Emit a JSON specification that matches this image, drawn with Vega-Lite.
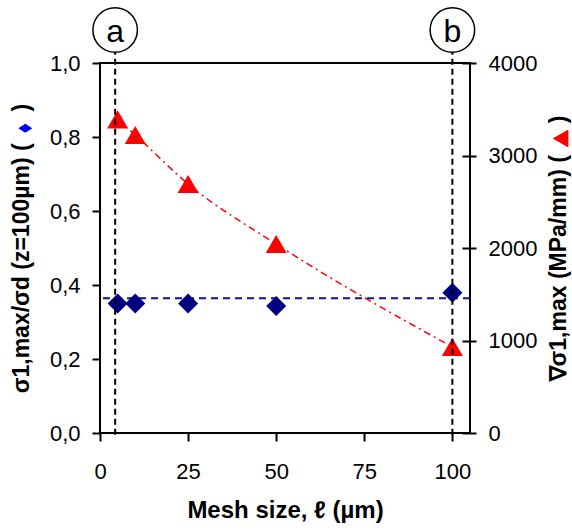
{
  "$schema": "https://vega.github.io/schema/vega-lite/v6.json",
  "width": 370,
  "height": 370,
  "autosize": {"type": "none"},
  "padding": {"left": 100, "top": 63, "right": 102, "bottom": 98},
  "background": "white",
  "config": {
    "view": {"stroke": "black", "strokeWidth": 2},
    "font": "Liberation Sans"
  },
  "datasets": {
    "ratio": [
      {"mesh": 5, "ratio": 0.350},
      {"mesh": 10, "ratio": 0.350},
      {"mesh": 25, "ratio": 0.350},
      {"mesh": 50, "ratio": 0.343},
      {"mesh": 100, "ratio": 0.379}
    ],
    "grad": [
      {"mesh": 5, "grad": 3390},
      {"mesh": 10, "grad": 3222},
      {"mesh": 25, "grad": 2692},
      {"mesh": 50, "grad": 2043},
      {"mesh": 100, "grad": 930}
    ],
    "mean": [{"ratio": 0.364}],
    "marks": [{"mesh": 4.3, "label": "a"}, {"mesh": 100, "label": "b"}]
  },
  "resolve": {"scale": {"y": "independent"}, "axis": {"x": "independent", "y": "independent"}},
  "layer": [
    {
      "data": {"name": "mean"},
      "mark": {"type": "rule", "color": "#10109a", "strokeWidth": 2, "strokeDash": [7, 5]},
      "encoding": {
        "y": {"field": "ratio", "type": "quantitative", "scale": {"domain": [0, 1], "nice": false, "zero": false}, "axis": null}
      }
    },
    {
      "data": {"name": "grad"},
      "mark": {"type": "line", "color": "red", "strokeWidth": 1.5, "strokeDash": [7, 4, 2, 4], "interpolate": "monotone"},
      "encoding": {
        "x": {"field": "mesh", "type": "quantitative", "scale": {"domain": [0, 105], "nice": false, "zero": false}, "axis": null},
        "y": {
          "field": "grad", "type": "quantitative",
          "scale": {"domain": [0, 4000], "nice": false, "zero": false},
          "axis": {"orient": "right", "values": [0, 1000, 2000, 3000, 4000], "grid": false, "domain": false, "ticks": true, "tickSize": -8, "tickWidth": 2, "tickColor": "black", "labels": false, "title": null}
        }
      }
    },
    {
      "data": {"name": "ratio"},
      "mark": {"type": "point", "shape": "diamond", "filled": true, "size": 400, "color": "#000080", "opacity": 1},
      "encoding": {
        "x": {
          "field": "mesh", "type": "quantitative",
          "scale": {"domain": [0, 105], "nice": false, "zero": false},
          "axis": {
            "orient": "bottom", "values": [0, 25, 50, 75, 100], "grid": false, "domain": false,
            "tickSize": 8, "tickWidth": 2, "tickColor": "black",
            "labelFont": "Liberation Sans", "labelFontSize": 22, "labelColor": "black", "labelPadding": 20, "labelFlush": false,
            "title": "Mesh size, ℓ (µm)", "titleFont": "Liberation Sans", "titleFontSize": 24, "titleFontWeight": "bold", "titleColor": "black", "titlePadding": 16
          }
        },
        "y": {
          "field": "ratio", "type": "quantitative",
          "scale": {"domain": [0, 1], "nice": false, "zero": false},
          "axis": {
            "orient": "left",
            "values": [0, 0.2, 0.4, 0.6, 0.8, 1.0],
            "labelExpr": "replace(format(datum.value, '.1f'), '.', ',')",
            "grid": false, "domain": false,
            "tickSize": 8, "tickWidth": 2, "tickColor": "black",
            "labelFont": "Liberation Sans", "labelFontSize": 22, "labelColor": "black", "labelPadding": 12,
            "title": "σ1,max/σd (z=100µm) (\u00a0\u00a0\u00a0\u00a0\u00a0)",
            "titleFont": "Liberation Sans", "titleFontSize": 23, "titleFontWeight": "bold", "titleColor": "black", "titlePadding": 16
          }
        }
      }
    },
    {
      "data": {"name": "grad"},
      "mark": {"type": "point", "shape": "triangle-up", "filled": true, "size": 440, "color": "red", "opacity": 1},
      "encoding": {
        "x": {"field": "mesh", "type": "quantitative", "axis": null},
        "y": {
          "field": "grad", "type": "quantitative",
          "scale": {"domain": [0, 4000], "nice": false, "zero": false},
          "axis": {
            "orient": "right",
            "values": [0, 1000, 2000, 3000, 4000],
            "format": "d",
            "grid": false, "domain": false,
            "tickSize": 6, "tickWidth": 2, "tickColor": "black",
            "labelFont": "Liberation Sans", "labelFontSize": 22, "labelColor": "black", "labelPadding": 12,
            "title": "∇σ1,max (MPa/mm) (\u00a0\u00a0\u00a0\u00a0\u00a0)",
            "titleFont": "Liberation Sans", "titleFontSize": 23, "titleFontWeight": "bold", "titleColor": "black",
            "titleAngle": 270,
            "titleBaseline": "top",
            "titlePadding": 11
          }
        }
      }
    },
    {
      "data": {"name": "marks"},
      "mark": {"type": "rule", "color": "black", "strokeWidth": 2, "strokeDash": [6, 4]},
      "encoding": {
        "x": {"field": "mesh", "type": "quantitative", "axis": null},
        "y": {"datum": -0.005, "type": "quantitative", "scale": {"domain": [0, 1], "nice": false, "zero": false}, "axis": null},
        "y2": {"datum": 1.03}
      }
    },
    {
      "data": {"name": "marks"},
      "mark": {"type": "point", "shape": "circle", "size": 1980, "filled": true, "fill": "white", "stroke": "black", "strokeWidth": 1.5, "opacity": 1},
      "encoding": {
        "x": {"field": "mesh", "type": "quantitative", "axis": null},
        "y": {"datum": 1.089, "type": "quantitative", "scale": {"domain": [0, 1], "nice": false, "zero": false}, "axis": null}
      }
    },
    {
      "data": {"name": "marks"},
      "mark": {"type": "text", "fontSize": 32, "font": "Liberation Sans", "color": "black", "align": "center", "baseline": "middle", "dy": 1},
      "encoding": {
        "x": {"field": "mesh", "type": "quantitative", "axis": null},
        "y": {"datum": 1.0865, "type": "quantitative", "scale": {"domain": [0, 1], "nice": false, "zero": false}, "axis": null},
        "text": {"field": "label"}
      }
    },
    {
      "data": {"values": [{"series": "ratio"}]},
      "mark": {"type": "point", "shape": "M-1,0L0,-0.65L1,0L0,0.65Z", "filled": true, "size": 196, "color": "#0000ff", "opacity": 1},
      "encoding": {
        "x": {"datum": -21.2, "type": "quantitative", "axis": null},
        "y": {"datum": 0.8238, "type": "quantitative", "scale": {"domain": [0, 1], "nice": false, "zero": false}, "axis": null}
      }
    },
    {
      "data": {"values": [{"series": "grad"}]},
      "mark": {"type": "point", "shape": "triangle-left", "filled": true, "size": 324, "color": "red", "opacity": 1},
      "encoding": {
        "x": {"datum": 130.7, "type": "quantitative", "axis": null},
        "y": {"datum": 0.7962, "type": "quantitative", "scale": {"domain": [0, 1], "nice": false, "zero": false}, "axis": null}
      }
    }
  ]
}
